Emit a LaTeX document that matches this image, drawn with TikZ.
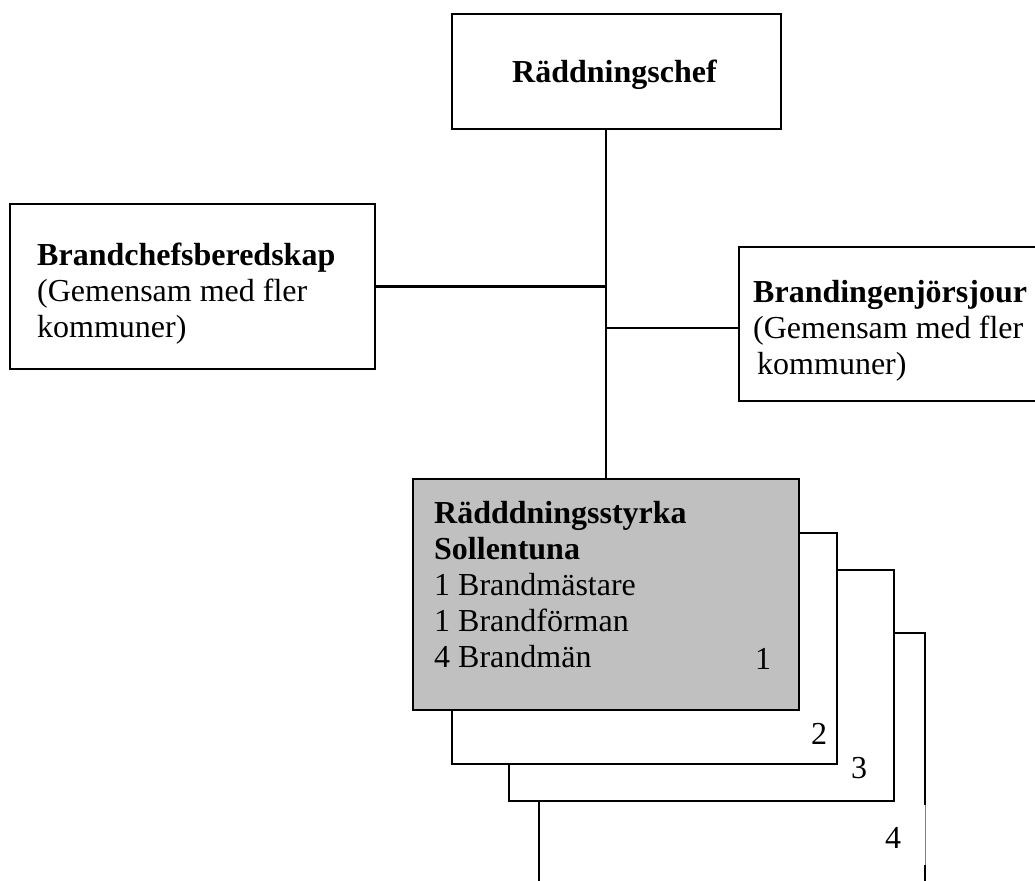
\documentclass[tikz,border=0pt]{standalone}
\usepackage{fontspec}
\setmainfont{Liberation Serif}
\definecolor{boxGray}{RGB}{192,192,192}
\newcommand{\orgfont}{\fontsize{32}{36}\selectfont}

\begin{document}
\begin{tikzpicture}[x=1pt,y=-1pt,
        orgbox/.style={draw, line width=1.9pt, fill=white, inner sep=0pt, anchor=north west},
        orgtext/.style={anchor=north west, inner sep=0pt, align=left, font=\orgfont, yshift=25.2pt},
        numtext/.style={anchor=base west, inner sep=0pt, font=\orgfont},
        link/.style={line width=2.2pt}]
        \useasboundingbox (0,0) rectangle (1035,880);
        \clip (0,0) rectangle (1035,880);

        % Raddningschef
        \node[orgbox, minimum width=329pt, minimum height=115pt] (chef) at (451,13) {};
        \node[orgtext] (cheftxt) at (512,82) {\strut\textbf{Räddningschef}};

        % Brandchefsberedskap
        \node[orgbox, minimum width=365pt, minimum height=165pt] (brandchef) at (9,203) {};
        \node[orgtext] (brandcheftxt) at (37,265) {\strut\textbf{Brandchefsberedskap}\\(Gemensam med fler\\kommuner)};

        % Brandingenjorsjour
        \node[orgbox, minimum width=310pt, minimum height=154pt] (ingenjor) at (738,246) {};
        \node[orgtext] (ingenjortxt) at (753,302) {\strut\textbf{Brandingenjörsjour}\\(Gemensam med fler\\\hspace*{4pt}kommuner)};

        % styrkor 4..1
        \node[orgbox, draw=none, minimum width=384pt, minimum height=300pt] (styrka4) at (539,633) {};
        \draw[link] (styrka4.south west) -- (styrka4.north west) -- (styrka4.north east) -- ++(0,172);
        %\draw[link] ([yshift=-172pt]styrka4.north east) -- ([yshift=-232pt]styrka4.north east);
        \draw[line width=0.6pt, gray] ([yshift=-172pt]styrka4.north east) -- ([yshift=-232pt]styrka4.north east);
        \draw[link] ([yshift=-232pt]styrka4.north east) -- (styrka4.south east);

        \node[orgbox, minimum width=385pt, minimum height=231pt] (styrka3) at (508,569) {};
        \node[orgbox, minimum width=385pt, minimum height=231pt] (styrka2) at (451,532) {};
        \node[orgbox, fill=boxGray, minimum width=386pt, minimum height=231pt] (styrka1) at (412,478) {};
        \node[orgtext] (styrkatxt) at (434,523) {\strut\textbf{Rädddningsstyrka}\\\textbf{Sollentuna}\\1 Brandmästare\\1 Brandförman\\4 Brandmän};

        \node[numtext] (nr1) at (755,669) {1};
        \node[numtext] (nr2) at (811,744) {2};
        \node[numtext] (nr3) at (851,778) {3};
        \node[numtext] (nr4) at (885,848) {4};

        % connectors
        \draw[link] (chef.south -| styrka1.north) -- (styrka1.north);
        \draw[link] (brandchef.east) -- (brandchef.east -| styrka1.north);
        \draw[link] ([yshift=-4pt]ingenjor.west) -- ([yshift=-4pt]ingenjor.west -| styrka1.north);

    \end{tikzpicture}
\end{document}
